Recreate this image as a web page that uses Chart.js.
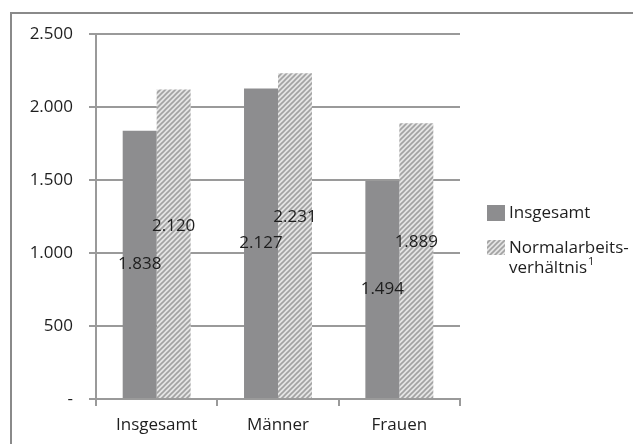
<!DOCTYPE html>
<html>
<head>
<meta charset="utf-8">
<script src="https://cdn.jsdelivr.net/npm/chart.js@4/dist/chart.umd.min.js"></script>
<style>
  html, body { margin: 0; padding: 0; background: #fff; }
  #wrap { position: relative; width: 634px; height: 444px; }
</style>
</head>
<body>
<div id="wrap"><canvas id="chart" width="634" height="444"></canvas></div>
<script>
// data
const categories = ["Insgesamt", "Männer", "Frauen"];
const seriesNames = ["Insgesamt", "Normalarbeits-"];
const insgesamt = [1838, 2127, 1494];
const normal = [2120, 2231, 1889];
const yTicks = [0, 500, 1000, 1500, 2000, 2500];

const FONT = "'Open Sans', sans-serif";
const SIZE = 17;
const INK = "#1e1e1e";
const GRID = "#9a9a9a";

function fmt(v) {
    if (v === 0) return "-";
    return v.toLocaleString("de-DE");
}

function hatchPattern() {
    const c = document.createElement("canvas");
    c.width = 5; c.height = 5;
    const g = c.getContext("2d");
    g.fillStyle = "#e4e4e4";
    g.fillRect(0, 0, 5, 5);
    g.strokeStyle = "#a2a2a2";
    g.lineWidth = 1.6;
    g.beginPath();
    g.moveTo(-1, 6); g.lineTo(6, -1);
    g.moveTo(-1, 1); g.lineTo(1, -1);
    g.moveTo(4, 6); g.lineTo(6, 4);
    g.stroke();
    return g.createPattern(c, "repeat");
}
const hatch = hatchPattern();

// frame round the whole figure
const framePlugin = {
    id: "frame",
    beforeDraw(chart) {
        const ctx = chart.ctx;
        ctx.save();
        ctx.strokeStyle = "#8a8a8a";
        ctx.lineWidth = 2;
        ctx.beginPath();
        ctx.moveTo(11, 444);
        ctx.lineTo(11, 13);
        ctx.lineTo(633, 13);
        ctx.stroke();
        ctx.restore();
    }
};

// value labels in the middle of each bar (hatched ones sit a bit higher)
const labelPlugin = {
    id: "barLabels",
    afterDatasetsDraw(chart) {
        const ctx = chart.ctx;
        ctx.save();
        ctx.font = SIZE + "px " + FONT;
        ctx.fillStyle = INK;
        ctx.textAlign = "center";
        ctx.textBaseline = "middle";
        chart.data.datasets.forEach((ds, i) => {
            const lift = i === 1 ? -18 : 0;
            chart.getDatasetMeta(i).data.forEach((bar, j) => {
                const y = (bar.y + bar.base) / 2 + lift;
                ctx.fillText(fmt(ds.data[j]), bar.x, y);
            });
        });
        ctx.restore();
    }
};

// legend on the right, second entry on two lines with superscript
const legendPlugin = {
    id: "sideLegend",
    afterDraw(chart) {
        const ctx = chart.ctx;
        const x = chart.chartArea.right + 27;
        ctx.save();
        ctx.fillStyle = "#8d8d8f";
        ctx.fillRect(x, 205, 18, 16);
        ctx.fillStyle = hatch;
        ctx.fillRect(x, 240, 18, 15);
        ctx.fillStyle = INK;
        ctx.font = SIZE + "px " + FONT;
        ctx.textBaseline = "middle";
        ctx.fillText(seriesNames[0], x + 22, 213);
        ctx.fillText(seriesNames[1], x + 22, 248);
        ctx.fillText("verhältnis", x + 22, 268);
        const w = ctx.measureText("verhältnis").width;
        ctx.font = "11px " + FONT;
        ctx.fillText("1", x + 23 + w, 262);
        ctx.restore();
    }
};

new Chart(document.getElementById("chart"), {
    type: "bar",
    data: {
        labels: categories,
        datasets: [
            { label: seriesNames[0], data: insgesamt, backgroundColor: "#8d8d8f" },
            { label: seriesNames[1], data: normal, backgroundColor: hatch }
        ]
    },
    options: {
        responsive: false,
        animation: false,
        layout: { padding: { left: 0, top: 34, right: 174, bottom: 0 } },
        datasets: { bar: { categoryPercentage: 0.56, barPercentage: 1.0 } },
        plugins: { legend: { display: false }, tooltip: { enabled: false } },
        scales: {
            x: {
                afterFit(s) { s.height = 45; },
                grid: { drawOnChartArea: false, color: GRID, lineWidth: 2, tickLength: 7 },
                border: { color: GRID, width: 2 },
                ticks: { color: INK, font: { family: FONT, size: SIZE }, padding: 9 }
            },
            y: {
                min: 0, max: 2500,
                afterFit(s) { s.width = 96; },
                afterBuildTicks(s) { s.ticks = yTicks.map(v => ({ value: v })); },
                grid: { color: GRID, lineWidth: 2, tickLength: 7 },
                border: { color: GRID, width: 2 },
                ticks: {
                    color: INK, font: { family: FONT, size: SIZE }, padding: 16,
                    callback: v => fmt(v)
                }
            }
        }
    },
    plugins: [framePlugin, labelPlugin, legendPlugin]
});
</script>
</body>
</html>
